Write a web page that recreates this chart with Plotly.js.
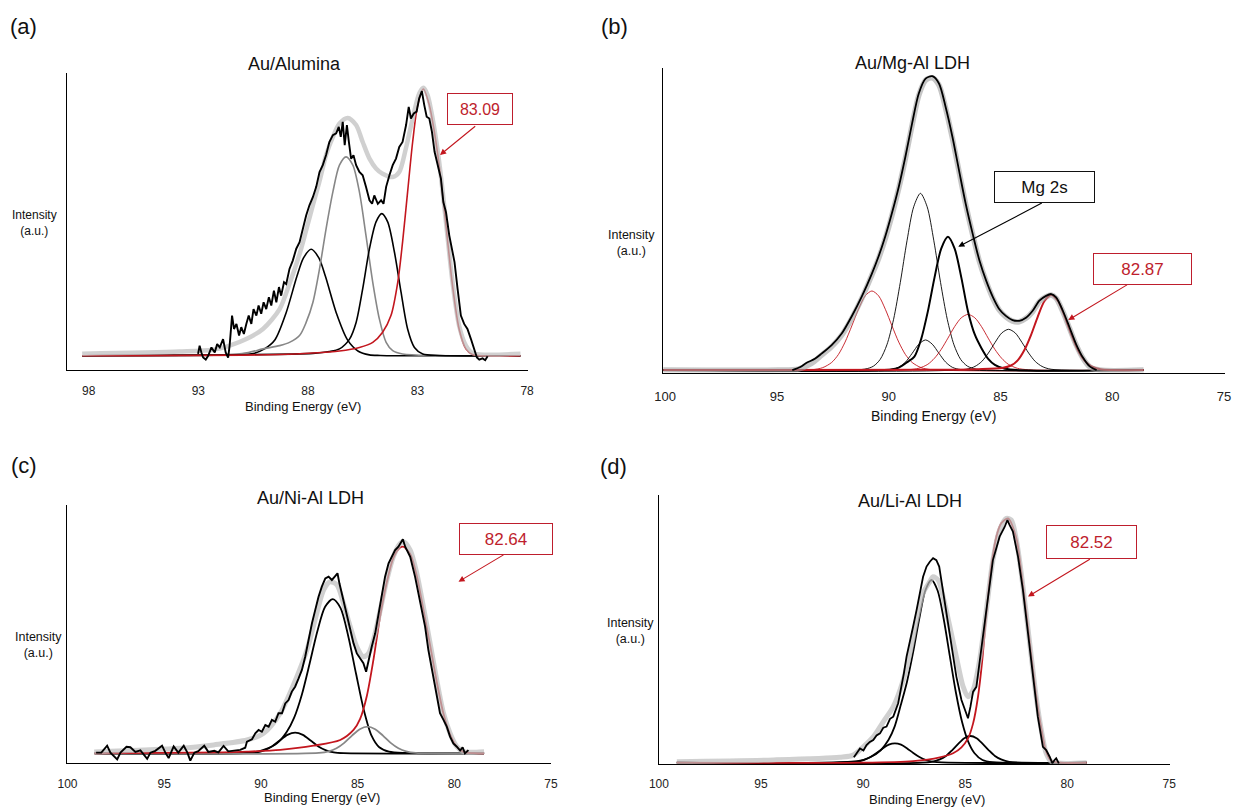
<!DOCTYPE html>
<html>
<head>
<meta charset="utf-8">
<script src="https://cdn.plot.ly/plotly-3.0.1.min.js"></script>
<style>html,body{margin:0;padding:0;background:#fff;}#chart{width:1237px;height:808px;}</style>
</head>
<body>
<div id="chart"></div>
<script>
// ---------------- DATA (binding energy in eV, intensity in a.u.) ----------------
// tick labels
const ticksA = [98, 93, 88, 83, 78];
const ticksBCD = [100, 95, 90, 85, 80, 75];
const panelTitles = ["Au/Alumina", "Au/Mg-Al LDH", "Au/Ni-Al LDH", "Au/Li-Al LDH"];
const panelLetters = ["(a)", "(b)", "(c)", "(d)"];
const peakLabels = ["83.09", "82.87", "82.64", "82.52"];
const mgLabel = "Mg 2s";

// ---- (a) Au/Alumina ----
const aRawE = [93.01,92.94,92.86,92.78,92.66,92.55,92.40,92.25,92.14,92.02,91.87,91.75,91.64,91.57,91.46,91.37,91.26,91.14,91.04,90.92,90.81,90.70,90.58,90.48,90.35,90.25,90.13,90.02,89.90,89.78,89.67,89.55,89.44,89.32,89.22,89.09,88.99,88.84,88.69,88.53,88.38,88.23,88.08,87.93,87.77,87.62,87.47,87.32,87.17,87.02,86.86,86.71,86.59,86.50,86.41,86.32,86.22,86.13,86.03,85.92,85.80,85.65,85.50,85.35,85.19,85.07,84.97,84.81,84.66,84.55,84.43,84.28,84.13,83.98,83.83,83.68,83.52,83.40,83.30,83.17,83.04,82.92,82.80,82.69,82.58,82.46,82.34,82.22,82.08,81.93,81.82,81.70,81.55,81.43,81.31,81.17,81.02,80.87,80.72,80.56,80.41,80.29,80.18,80.03,79.91,79.80];
const aRawI = [5.4,8.2,5.9,4.2,3.5,4.8,7.6,5.9,8.7,7.6,10.4,5.9,4.2,8.2,18.3,13.8,15.5,11.6,14.4,12.1,15.5,18.3,15.5,20.5,18.3,21.7,18.9,22.8,20.5,24.5,21.7,26.7,22.8,27.9,25.0,29.5,28.9,34.0,36.8,40.8,43.0,47.5,52.0,55.4,58.2,61.6,66.6,68.9,72.3,76.7,79.0,79.6,81.8,78.4,83.5,75.6,82.4,76.7,71.1,72.2,68.9,66.6,65.5,61.6,57.1,55.9,58.7,55.9,57.1,55.9,61.6,65.5,68.9,71.1,75.0,76.7,82.4,88.5,84.6,86.3,86.9,91.4,93.8,89.1,85.2,84.6,80.1,73.4,68.9,64.4,56.5,53.1,45.3,40.8,36.3,27.3,18.3,15.5,13.8,10.4,6.5,4.2,3.5,3.9,3.3,4.6];
const aFitE = [98.3,93.85,92.33,91.57,90.81,90.05,89.29,88.84,88.38,88.08,87.77,87.47,87.17,86.86,86.56,86.18,85.80,85.50,85.19,84.89,84.59,84.13,83.83,83.53,83.22,82.92,82.73,82.54,82.31,82.01,81.70,81.40,81.10,80.79,80.49,78.3];
const aFitI = [5.5,6.2,6.8,8.2,10.4,13.8,20.5,29.0,39.0,47.0,55.5,63.5,72.3,78.4,82.9,84.8,82.4,76.7,71.1,67.8,66.0,64.9,66.6,74.5,84.6,93.0,94.9,92.5,84.6,70.0,49.8,29.5,14.9,8.2,5.7,5.5];
const aP1E = [98.3,92.0,91.0,90.5,90.0,89.5,89.0,88.5,88.2,87.85,87.5,87.2,86.7,86.2,85.7,85.2,84.7,84.0,78.3];
const aP1I = [4.8,5.0,5.2,5.5,7.0,10.2,19.1,31.5,37.7,40.6,37.7,31.5,19.1,10.2,6.3,5.1,4.9,4.8,4.8];
const aP2E = [98.3,91.0,90.05,89.29,88.84,88.38,88.08,87.77,87.47,87.17,86.86,86.56,86.26,85.95,85.65,85.35,85.04,84.74,84.43,84.13,83.68,78.3];
const aP2I = [4.8,5.5,7.1,8.2,9.3,11.6,16.0,22.8,34.0,47.5,59.9,68.9,71.7,68.9,59.9,45.3,29.5,17.2,9.3,6.5,5.4,4.8];
const aP3E = [98.3,87.77,87.02,86.56,86.10,85.80,85.50,85.19,84.89,84.63,84.36,84.05,83.75,83.45,83.14,82.76,82.0,78.3];
const aP3I = [4.8,5.6,6.2,7.1,10.4,16.0,27.3,40.8,49.8,52.6,49.8,39.6,26.2,13.8,7.6,5.4,4.9,4.8];
const aAuE = [98.3,89.29,87.77,86.56,85.65,85.04,84.59,84.21,83.90,83.68,83.45,83.22,82.99,82.73,82.46,82.23,82.01,81.70,81.40,81.10,80.79,80.49,78.3];
const aAuI = [4.8,5.2,5.7,6.4,7.6,9.3,12.7,18.3,29.5,43.0,59.9,76.7,89.1,94.5,89.1,80.1,68.9,48.6,28.4,13.8,7.1,5.2,4.8];

// ---- (b) Au/Mg-Al LDH ----
const bRawE = [94.31,93.95,93.67,93.3,93.0,92.55,92.10,91.65,91.20,90.75,90.45,90.15,89.85,89.55,89.25,88.95,88.65,88.35,88.05,87.75,87.45,87.15,86.85,86.55,86.24,85.94,85.64,85.34,85.05,84.76,84.46,84.16,83.86,83.56,83.26,82.96,82.73,82.51,82.21,81.91,81.61,81.31,81.01,80.7];
const bRawI = [0.8,1.8,3.2,4.5,6.2,9.0,12.8,18.5,25.0,32.5,38.2,44.8,52.5,61.0,71.0,82.0,91.8,96.6,97.4,95.0,87.2,77.5,66.3,55.3,45.5,36.8,30.2,24.8,20.8,18.6,17.2,17.0,18.0,20.3,23.6,25.2,25.8,24.7,20.3,14.8,9.2,4.9,2.0,0.8];
const bFitE = [100.1,94.95,94.05,93.45,93.00,92.55,92.10,91.65,91.20,90.75,90.45,90.15,89.85,89.55,89.25,88.95,88.65,88.35,88.05,87.75,87.45,87.15,86.85,86.55,86.24,85.94,85.64,85.34,85.05,84.76,84.46,84.16,83.86,83.56,83.26,82.96,82.73,82.51,82.21,81.91,81.61,81.31,81.01,80.56,78.6];
const bFitI = [0.8,0.8,1.1,3.0,5.7,8.5,12.3,17.8,24.4,32.1,37.5,44.1,51.8,60.5,70.4,81.4,91.2,96.1,96.9,94.5,86.8,77.0,66.0,55.1,45.2,36.5,29.9,24.4,20.5,18.3,16.9,16.7,17.8,20.0,23.3,24.9,25.5,24.4,20.0,14.5,9.0,4.7,1.9,0.8,0.8];
const bP1E = [100.1,93.45,92.95,92.55,92.25,91.95,91.65,91.35,91.05,90.75,90.45,90.15,89.85,89.55,89.25,88.95,88.55,88.05,78.6];
const bP1I = [0.8,0.9,1.6,3.3,5.9,10.0,15.3,20.8,25.2,26.8,25.2,20.8,15.3,10.0,5.9,3.3,1.6,0.9,0.8];
const bP2E = [100.1,91.08,90.68,90.38,90.08,89.78,89.48,89.18,88.88,88.58,88.28,87.98,87.68,87.38,87.08,86.78,86.48,86.08,78.6];
const bP2I = [0.8,1.1,2.1,4.3,9.1,17.5,29.6,43.3,54.5,58.9,54.5,43.3,29.6,17.5,9.1,4.3,2.1,1.1,0.8];
const bP3E = [100.1,89.95,89.55,89.25,88.95,88.65,88.35,88.05,87.75,87.45,87.15,86.75,78.6];
const bP3I = [0.8,0.95,1.7,3.4,6.3,9.3,10.7,9.3,6.3,3.4,1.7,0.95,0.8];
const bMgE = [100.1,89.9,89.55,89.15,88.85,88.55,88.25,87.95,87.65,87.35,87.05,86.75,86.45,86.15,85.85,85.55,85.25,84.8,78.6];
const bMgI = [0.8,1.0,1.6,3.5,5.2,10.9,20.0,31.2,40.7,44.6,40.7,31.2,20.0,12.5,8.0,4.5,2.5,1.2,0.8];
const bP5E = [100.1,89.15,88.65,88.25,87.95,87.65,87.35,87.05,86.75,86.45,86.15,85.85,85.55,85.25,84.95,84.65,84.25,83.75,78.6];
const bP5I = [0.8,0.9,1.4,2.7,4.7,7.6,11.3,15.1,18.0,19.1,18.0,15.1,11.3,7.6,4.7,2.7,1.4,0.9,0.8];
const bP6E = [100.1,86.54,86.14,85.84,85.54,85.24,84.94,84.64,84.34,84.04,83.74,83.44,83.14,82.74,78.6];
const bP6I = [0.8,1.07,2.0,3.6,6.4,9.9,13.0,14.2,13.0,9.9,6.4,3.6,2.0,1.07,0.8];
const bAuE = [100.1,88.0,86.0,84.93,84.53,84.23,83.93,83.63,83.33,83.03,82.73,82.43,82.13,81.83,81.53,81.23,80.93,80.53,78.6];
const bAuI = [0.8,0.9,1.1,1.5,2.3,4.0,7.4,12.4,18.4,23.5,25.5,23.5,18.4,12.4,7.2,3.8,2.0,1.07,0.8];

// ---- (c) Au/Ni-Al LDH ----
const cRawE = [98.52,98.25,97.95,97.78,97.43,97.26,96.95,96.75,96.49,96.23,95.88,95.71,95.46,95.11,94.94,94.77,94.51,94.27,93.99,93.80,93.65,93.44,93.24,92.93,92.72,92.41,92.20,91.93,91.69,91.38,91.07,90.81,
  90.72,90.46,90.29,90.12,89.95,89.77,89.60,89.43,89.26,89.09,88.91,88.74,88.57,88.40,88.23,88.05,87.88,87.71,87.54,87.36,87.19,87.02,86.85,86.67,86.50,86.33,86.16,86.04,85.94,85.73,85.56,85.38,85.21,85.04,84.87,84.70,84.56,84.44,84.27,84.09,83.92,83.75,83.58,83.40,83.23,83.06,82.89,82.75,82.66,82.54,82.28,82.03,81.77,81.51,81.34,81.08,80.91,80.74,80.56,80.39,80.22,80.05,79.87,79.70,79.57,79.45,79.27];
const cRawI = [3.9,3.9,6.6,3.9,1.3,3.9,6.2,6.0,4.2,4.8,1.5,3.9,4.6,6.6,3.9,1.8,6.3,3.9,6.6,3.9,0.8,3.9,4.5,6.6,4.2,4.6,4.0,6.5,4.4,4.7,5.0,5.8,
  8.2,9.1,11.4,12.7,12.0,14.6,14.0,16.6,15.9,19.2,19.2,23.0,24.3,27.6,29.5,32.7,36.0,41.1,47.6,54.1,59.3,64.4,68.3,71.5,72.2,70.9,72.4,73.5,69.6,63.1,58.0,51.5,46.3,42.4,40.5,38.6,35.3,39.9,45.0,50.2,58.0,65.7,72.2,77.4,79.9,82.5,83.8,85.4,86.7,83.8,79.9,72.2,63.1,52.8,43.7,33.4,26.9,19.2,16.6,14.0,10.1,7.5,6.2,4.7,6.0,3.6,4.9];
const cFitE = [98.62,94.17,92.44,90.72,89.86,89.00,88.14,87.62,87.11,86.76,86.42,86.07,85.73,85.38,85.04,84.70,84.44,84.18,83.83,83.49,83.15,82.80,82.63,82.28,81.94,81.60,81.25,80.91,80.56,80.22,79.87,79.53,78.46];
const cFitI = [4.2,5.6,6.9,8.8,11.4,19.2,33.4,43.7,58.0,67.0,70.2,69.0,61.8,52.8,45.0,41.1,42.4,47.6,59.2,70.9,80.0,85.1,85.8,82.5,73.5,60.5,46.3,32.1,19.2,11.4,6.2,4.3,4.3];
const cP1E = [98.6,90.73,90.23,89.83,89.43,89.03,88.63,88.23,87.83,87.43,87.03,86.63,86.23,85.73,78.46];
const cP1I = [3.6,3.7,4.0,4.8,6.3,8.6,10.8,11.7,10.8,8.6,6.3,4.8,4.0,3.7,3.6];
const cP2E = [98.6,90.5,89.86,89.17,88.66,88.28,87.88,87.48,87.08,86.68,86.28,85.88,85.48,85.08,84.68,84.28,83.88,83.38,82.5,78.46];
const cP2I = [3.6,3.9,5.0,7.5,12.0,17.5,26.5,38.5,51.0,60.5,63.5,60.0,49.0,34.5,20.5,10.5,6.0,4.3,3.8,3.6];
const cP3E = [98.6,87.0,86.49,86.09,85.69,85.29,84.89,84.49,84.09,83.69,83.29,82.89,82.49,81.99,78.46];
const cP3I = [3.6,3.8,4.4,5.6,7.7,10.5,13.0,14.0,13.0,10.5,7.7,5.6,4.4,3.8,3.6];
const cAuE = [98.6,92.0,90.72,89.0,87.28,85.9,85.21,84.87,84.52,84.18,83.83,83.49,83.15,82.80,82.63,82.28,81.94,81.60,81.25,80.91,80.56,80.22,79.87,79.53,79.0,78.46];
const cAuI = [3.6,4.0,4.3,5.0,6.6,8.8,12.7,17.0,26.0,40.0,57.0,70.0,79.5,83.5,83.8,81.0,72.5,59.5,45.5,31.5,19.0,11.0,6.2,4.2,3.7,3.6];

// ---- (d) Au/Li-Al LDH ----
const dRawE = [90.45,90.31,90.15,89.98,89.83,89.67,89.50,89.34,89.17,89.01,88.85,88.68,88.52,88.28,88.12,88.00,87.87,87.71,87.55,87.38,87.22,87.06,86.89,86.73,86.57,86.41,86.27,86.11,85.92,85.67,85.43,85.18,85.02,84.86,84.74,84.61,84.45,84.29,83.96,83.64,83.31,83.06,82.93,82.82,82.66,82.41,82.17,81.92,81.68,81.44,81.19,81.03,80.86,80.73,80.62,80.54,80.41];
const dRawI = [2.5,4.0,5.8,5.0,7.0,8.2,8.9,10.6,11.4,13.5,13.9,16.8,17.6,22.6,28.7,33.7,39.9,46.1,51.0,57.2,63.4,69.6,73.4,75.2,76.5,75.8,73.4,65.9,56.0,43.6,32.5,23.8,20.1,17.0,21.3,26.9,28.7,37.4,57.2,75.8,84.5,88.2,90.7,88.8,86.4,77.1,64.7,48.6,32.5,17.6,6.4,5.2,2.7,0.3,1.5,2.1,0.2];
const dFitE = [99.12,94.39,91.13,90.48,89.99,89.50,89.01,88.52,88.03,87.71,87.38,87.06,86.73,86.57,86.32,86.08,85.75,85.43,85.10,84.86,84.61,84.29,83.96,83.64,83.31,82.98,82.74,82.49,82.25,82.01,81.76,81.52,81.27,81.03,80.78,79.05];
const dFitI = [0.86,1.5,2.5,3.3,6.4,10.1,15.7,21.3,31.2,41.1,53.5,63.5,67.8,69.6,68.4,62.2,51.1,39.9,28.8,25.0,27.5,38.7,57.2,75.8,87.0,91.3,90.7,83.3,70.9,56.0,39.9,25.0,12.7,4.0,0.9,0.5];
const dP1E = [99.12,90.34,89.94,89.64,89.34,89.04,88.74,88.44,88.14,87.84,87.54,87.24,86.94,86.54,79.05];
const dP1I = [0.5,0.8,1.5,2.6,4.1,5.8,7.2,7.7,7.2,5.8,4.1,2.6,1.5,0.8,0.5];
const dP2E = [99.12,90.2,89.65,89.15,88.75,88.45,88.15,87.85,87.55,87.25,86.95,86.65,86.35,86.05,85.75,85.45,85.15,84.85,84.55,84.15,83.65,79.05];
const dP2I = [0.5,1.2,2.5,5.0,9.0,14.0,22.0,30.5,41.5,53.9,64.5,68.4,64.5,53.9,40.1,26.5,15.6,8.3,4.1,1.5,0.7,0.5];
const dP3E = [99.12,86.64,86.24,85.94,85.64,85.34,85.04,84.74,84.44,84.14,83.84,83.54,83.24,82.84,79.05];
const dP3I = [0.5,0.8,1.7,3.0,5.1,7.5,9.6,10.4,9.6,7.5,5.1,3.0,1.7,0.8,0.5];
const dAuE = [99.12,90.0,87.55,86.24,85.59,85.18,84.86,84.61,84.37,84.16,83.96,83.72,83.47,83.23,82.9,82.49,82.25,82.01,81.76,81.52,81.27,81.03,80.78,79.05];
const dAuI = [0.5,0.5,1.1,2.5,4.0,6.2,9.5,15.1,25.0,38.7,56.0,73.4,84.5,89.5,91.3,83.9,71.5,56.6,40.5,25.6,13.3,4.6,1.2,0.5];

// ---------------- STYLE / LAYOUT ----------------
const W = 1237, H = 808;
const fx = x => x / W;
const fy = y => 1 - y / H;
const RED = '#c3161e', REDTXT = '#be1e2d', GREY = '#878787';
const ENV = 'rgba(190,190,190,0.72)';
const FONT = 'Liberation Sans, Arial, Helvetica, sans-serif';

function ln(x, y, ax, color, width, shape) {
  return {type: 'scatter', mode: 'lines', x: x, y: y, xaxis: 'x' + ax, yaxis: 'y' + ax,
    line: {color: color, width: width, shape: shape || 'spline', smoothing: 0.8},
    hoverinfo: 'skip', showlegend: false};
}

const traces = [
  // (a)
  ln(aP1E, aP1I, '', '#000', 1.6),
  ln(aP2E, aP2I, '', GREY, 1.6),
  ln(aP3E, aP3I, '', '#000', 1.6),
  ln(aAuE, aAuI, '', RED, 1.6),
  ln(aFitE, aFitI, '', ENV, 4.5),
  ln(aRawE, aRawI, '', '#000', 1.9, 'linear'),
  // (b)
  ln(bP1E, bP1I, '2', RED, 0.9),
  ln(bP2E, bP2I, '2', '#000', 0.9),
  ln(bP3E, bP3I, '2', '#000', 0.9),
  ln(bP5E, bP5I, '2', RED, 0.9),
  ln(bP6E, bP6I, '2', '#000', 0.9),
  ln(bMgE, bMgI, '2', '#000', 2.0),
  ln(bAuE, bAuI, '2', RED, 2.0),
  ln(bFitE, bFitI, '2', 'rgba(160,160,160,0.6)', 5.5),
  ln(bRawE, bRawI, '2', '#000', 1.8),
  // (c)
  ln(cP1E, cP1I, '3', '#000', 1.8),
  ln(cP2E, cP2I, '3', '#000', 1.8),
  ln(cP3E, cP3I, '3', GREY, 1.8),
  ln(cAuE, cAuI, '3', RED, 1.8),
  ln(cFitE, cFitI, '3', ENV, 5),
  ln(cRawE, cRawI, '3', '#000', 1.9, 'linear'),
  // (d)
  ln(dP1E, dP1I, '4', '#000', 1.8),
  ln(dP2E, dP2I, '4', '#000', 1.8),
  ln(dP3E, dP3I, '4', '#000', 1.8),
  ln(dAuE, dAuI, '4', RED, 1.8),
  ln(dFitE, dFitI, '4', ENV, 5),
  ln(dRawE, dRawI, '4', '#000', 1.8, 'linear')
];

function xax(d, range, ticks, len, fs) {
  return {domain: d, range: range, showline: true, linecolor: '#000', linewidth: 1,
    showgrid: false, zeroline: false, ticks: 'outside', ticklen: len, tickcolor: 'rgba(0,0,0,0)',
    tickvals: ticks, ticktext: ticks.map(String), tickfont: {family: FONT, size: fs, color: '#222'},
    fixedrange: true};
}
function yax(d, anchor) {
  return {domain: d, range: [0, 100], showline: true, linecolor: '#000', linewidth: 1,
    showgrid: false, zeroline: false, showticklabels: false, ticks: '', fixedrange: true, anchor: anchor};
}

const layout = {
  width: W, height: H, margin: {l: 0, r: 0, t: 0, b: 0, pad: 0},
  paper_bgcolor: '#fff', plot_bgcolor: 'rgba(0,0,0,0)', showlegend: false, hovermode: false,
  font: {family: FONT, color: '#111'},
  xaxis: Object.assign(xax([fx(66.8), fx(527.5)], [99, 77.98], ticksA, 10, 12), {anchor: 'y'}),
  yaxis: yax([fy(370), fy(72.7)], 'x'),
  xaxis2: Object.assign(xax([fx(663.3), fx(1225.4)], [100.08, 74.94], ticksBCD, 12, 13), {anchor: 'y2'}),
  yaxis2: yax([fy(372.5), fy(68.3)], 'x2'),
  xaxis3: Object.assign(xax([fx(67.1), fx(551.4)], [100.02, 74.98], ticksBCD, 10, 12), {anchor: 'y3'}),
  yaxis3: yax([fy(762.7), fy(505)], 'x3'),
  xaxis4: Object.assign(xax([fx(658.5), fx(1169.7)], [100.02, 74.98], ticksBCD, 9, 12), {anchor: 'y4'}),
  yaxis4: yax([fy(764), fy(495)], 'x4'),
  annotations: []
};

function txt(text, x, y, size, color, extra) {
  return Object.assign({text: text, xref: 'paper', yref: 'paper', x: fx(x), y: fy(y),
    xanchor: 'center', yanchor: 'middle', showarrow: false,
    font: {family: FONT, size: size, color: color || '#111'}}, extra || {});
}
function box(text, x, y, w, h, color, size) {
  return txt(text, x, y, size || 16, color, {bordercolor: color, borderwidth: 1, borderpad: 0,
    bgcolor: '#fff', width: w, height: h, align: 'center', valign: 'middle'});
}
function arrow(hx, hy, tx, ty, color) {
  return {text: '', xref: 'paper', yref: 'paper', x: fx(hx), y: fy(hy), ax: tx - hx, ay: ty - hy,
    showarrow: true, arrowhead: 2, arrowsize: 1.1, arrowwidth: 1.1, arrowcolor: color, standoff: 0, startstandoff: 0};
}

const A = layout.annotations;
// panel letters
A.push(txt(panelLetters[0], 23, 26, 22, '#111'));
A.push(txt(panelLetters[1], 614, 26, 22, '#111'));
A.push(txt(panelLetters[2], 24, 466, 22, '#111'));
A.push(txt(panelLetters[3], 613.5, 467, 22, '#111'));
// titles
A.push(txt(panelTitles[0], 294.6, 63.5, 18, '#111'));
A.push(txt(panelTitles[1], 912, 62.5, 18, '#111'));
A.push(txt(panelTitles[2], 310.5, 497.5, 18, '#111'));
A.push(txt(panelTitles[3], 910.4, 500.5, 18, '#111'));
// y labels
A.push(txt('Intensity<br>(a.u.)', 34.8, 223.3, 12, '#111'));
A.push(txt('Intensity<br>(a.u.)', 631.9, 242.5, 12.5, '#111'));
A.push(txt('Intensity<br>(a.u.)', 38.8, 644.5, 12.5, '#111'));
A.push(txt('Intensity<br>(a.u.)', 630.8, 631.3, 12.5, '#111'));
// x titles
A.push(txt('Binding Energy (eV)', 303.3, 406.7, 13, '#111'));
A.push(txt('Binding Energy (eV)', 933.3, 416, 14, '#111'));
A.push(txt('Binding Energy (eV)', 321.5, 797.3, 13, '#111'));
A.push(txt('Binding Energy (eV)', 926.5, 799.3, 13, '#111'));
// arrows
A.push(arrow(440, 155, 476.7, 125, RED));
A.push(arrow(958.3, 246.7, 1043.3, 202.3, '#000'));
A.push(arrow(1068.3, 320, 1128.5, 284, RED));
A.push(arrow(458.5, 581.7, 505, 554, RED));
A.push(arrow(1028, 596.5, 1091.3, 558.3, RED));
// boxes
A.push(box(peakLabels[0], 479.7, 108.5, 64, 30, REDTXT, 16));
A.push(box(peakLabels[1], 1142.9, 268.7, 97, 30, REDTXT, 17));
A.push(box(mgLabel, 1044.5, 186.5, 99, 30, '#111', 17));
A.push(box(peakLabels[2], 506, 538.7, 92, 30, REDTXT, 17));
A.push(box(peakLabels[3], 1091.4, 541.7, 89, 32, REDTXT, 17));

Plotly.newPlot('chart', traces, layout, {displayModeBar: false, staticPlot: true});
</script>
</body>
</html>
